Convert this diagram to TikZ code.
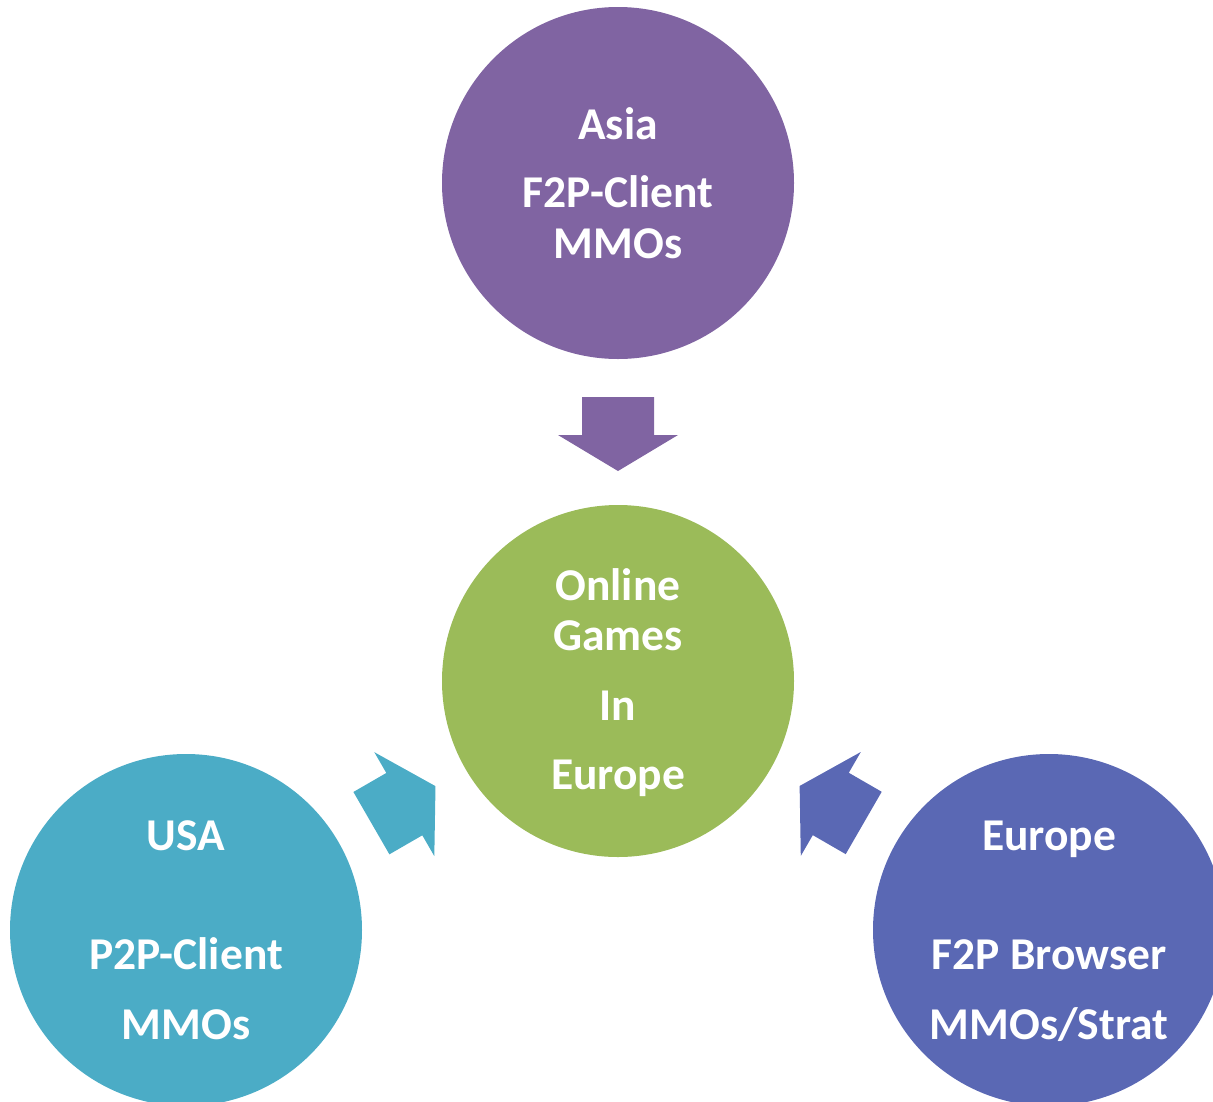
\documentclass[tikz,border=0pt]{standalone}
\usepackage{fontspec}
\setmainfont{Carlito}
\usetikzlibrary{calc}

\definecolor{asiapurple}{HTML}{8064A2}
\definecolor{hubgreen}{HTML}{9BBB59}
\definecolor{usateal}{HTML}{4BACC6}
\definecolor{eurblue}{HTML}{5A68B4}

\tikzset{
  region/.style={circle, minimum size=352pt, inner sep=0pt, draw=none},
  label line/.style={anchor=base, text=white, font=\fontsize{45.5}{50}\selectfont\bfseries, inner sep=0pt},
}

% block arrow pointing along +x, back edge at the origin
\newcommand{\blockarrow}{(0pt,-36pt) -- (38pt,-36pt) -- (38pt,-60pt) -- (74pt,0pt)
  -- (38pt,60pt) -- (38pt,36pt) -- (0pt,36pt) -- cycle}

\begin{document}
\begin{tikzpicture}[x=1pt, y=-1pt]
  \useasboundingbox (0,0) rectangle (1213,1101);
  \clip (0,0) rectangle (1213,1101);

  % circles
  \node[region, fill=asiapurple] (asia) at (618,183) {};
  \node[region, fill=hubgreen]   (hub)  at (618,681) {};
  \node[region, fill=usateal]    (usa)  at (186,930) {};
  \node[region, fill=eurblue]    (eur)  at (1049,930) {};

  % converging arrows
  \coordinate (asiaback) at ($(asia.center)!214pt!(hub.center)$);
  \coordinate (usaback)  at ($(usa.center)!214pt!(hub.center)$);
  \coordinate (eurback)  at ($(eur.center)!214pt!(hub.center)$);
  \fill[asiapurple, shift={(asiaback)}, rotate=-90] \blockarrow;
  \fill[usateal,    shift={(usaback)},  rotate=30]  \blockarrow;
  \fill[eurblue,    shift={(eurback)},  rotate=150] \blockarrow;

  % labels
  \node[label line] (asia1) at (618,139) {Asia};
  \node[label line] (asia2) at (618,207) {F2P-Client};
  \node[label line] (asia3) at (618,258) {MMOs};

  \node[label line] (hub1) at (618,600) {Online};
  \node[label line] (hub2) at (618,650) {Games};
  \node[label line] (hub3) at (618,720) {In};
  \node[label line] (hub4) at (618,789) {Europe};

  \node[label line] (usa1) at (186,850) {USA};
  \node[label line] (usa2) at (186,969) {P2P-Client};
  \node[label line] (usa3) at (186,1039) {MMOs};

  \node[label line] (eur1) at (1049,850) {Europe};
  \node[label line] (eur2) at (1049,969) {F2P Browser};
  \node[label line] (eur3) at (1049,1039) {MMOs/Strat};
\end{tikzpicture}
\end{document}
